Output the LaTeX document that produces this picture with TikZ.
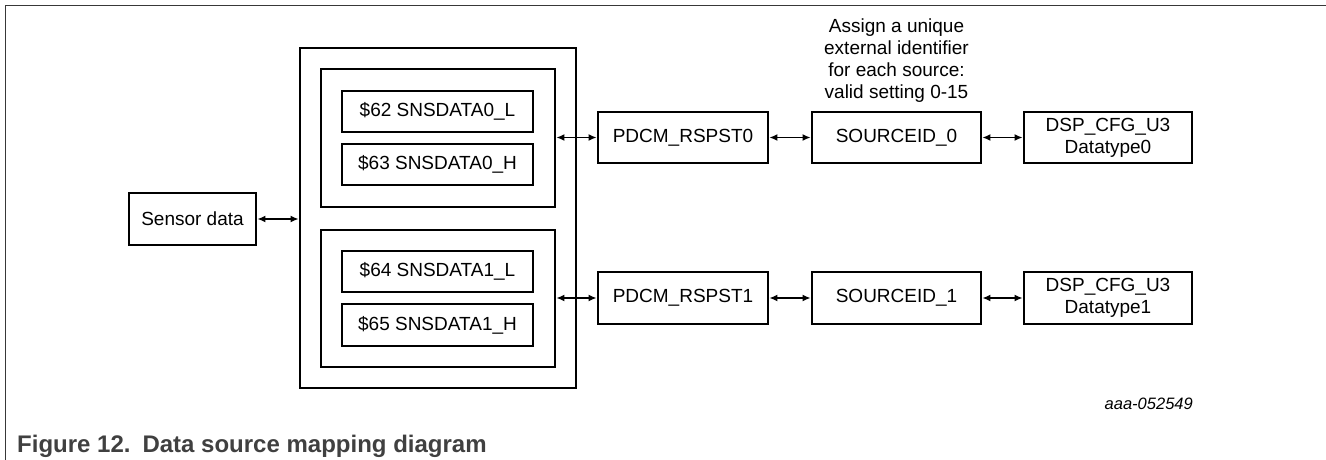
\documentclass[tikz,border=0pt]{standalone}
\usepackage{fontspec}
\setmainfont{Liberation Sans}
\usetikzlibrary{arrows.meta}
\begin{document}
\begin{tikzpicture}[x=1pt,y=-1pt,
  blk/.style={draw=black,line width=2.9pt,inner sep=0pt,align=center,
    font=\fontsize{19}{22}\selectfont},
  link/.style={line width=1.4pt,{Latex[length=8pt,width=7pt]}-{Latex[length=8pt,width=7pt]}},
  frameline/.style={draw=black!78,line width=1.6pt}]
\useasboundingbox (0,0) rectangle (1326,460);
\draw[frameline] (5.5,460) -- (5.5,5.5) -- (1326,5.5);
% left part
\node[blk,minimum width=127pt,minimum height=52pt] (sensor) at (192.5,219) {Sensor data};
\node[blk,minimum width=276pt,minimum height=340pt] (outer) at (438,218) {};
\node[blk,minimum width=234pt,minimum height=138pt] (in0) at (438,138) {};
\node[blk,minimum width=234pt,minimum height=137pt] (in1) at (438,298.5) {};
\node[blk,minimum width=191pt,minimum height=41pt] (r0l) at (437.5,111.5) {\$62 SNSDATA0\_L};
\node[blk,minimum width=191pt,minimum height=41pt] (r0h) at (437.5,164.5) {\$63 SNSDATA0\_H};
\node[blk,minimum width=191pt,minimum height=41pt] (r1l) at (437.5,271.5) {\$64 SNSDATA1\_L};
\node[blk,minimum width=191pt,minimum height=42pt] (r1h) at (437.5,325) {\$65 SNSDATA1\_H};
% row 0
\node[blk,minimum width=170pt,minimum height=51pt] (p0) at (683,137.5) {PDCM\_RSPST0};
\node[blk,minimum width=169pt,minimum height=51pt] (s0) at (896.5,137.5) {SOURCEID\_0};
\node[blk,minimum width=168pt,minimum height=51pt] (d0) at (1108,137.5) {DSP\_CFG\_U3\\Datatype0};
% row 1
\node[blk,minimum width=170pt,minimum height=52pt] (p1) at (683,298) {PDCM\_RSPST1};
\node[blk,minimum width=169pt,minimum height=52pt] (s1) at (896.5,298) {SOURCEID\_1};
\node[blk,minimum width=168pt,minimum height=52pt] (d1) at (1108,298) {DSP\_CFG\_U3\\Datatype1};
% annotation
\node[align=center,inner sep=0pt,anchor=south,font=\fontsize{19}{22}\selectfont] (note) at (896.5,103) {Assign a unique\\external identifier\\for each source:\\valid setting 0-15};
% connectors
\draw[link] (sensor.east) -- (sensor.east -| outer.west);
\draw[link] (in0.east |- p0.west) -- (p0.west);
\draw[link] (p0.east) -- (s0.west);
\draw[link] (s0.east) -- (d0.west);
\draw[link] (in1.east |- p1.west) -- (p1.west);
\draw[link] (p1.east) -- (s1.west);
\draw[link] (s1.east) -- (d1.west);
% labels
\node[anchor=base east,inner sep=0pt,font=\fontsize{16.5}{18}\selectfont\itshape] (code) at (1193,409) {aaa-052549};
\node[anchor=base west,inner sep=0pt,text=black!75,font=\fontsize{24}{26}\selectfont\bfseries] (cap) at (17,452) {Figure 12.\hspace{0.5em}Data source mapping diagram};
\end{tikzpicture}
\end{document}
